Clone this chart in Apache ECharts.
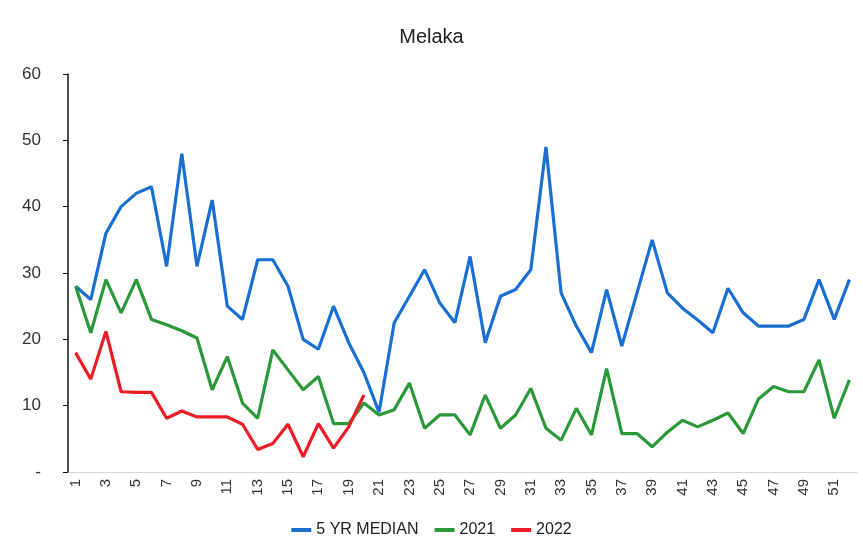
<!DOCTYPE html>
<html>
<head>
<meta charset="utf-8">
<script src="https://cdn.jsdelivr.net/npm/echarts@6/dist/echarts.min.js"></script>
<style>
  html, body { margin: 0; padding: 0; background: #fff; }
  #chart { width: 863px; height: 557px; }
</style>
</head>
<body>
<div id="chart"></div>
<script>
var weeks = [];
for (var i = 1; i <= 52; i++) weeks.push(String(i));

var median5yr = [28, 26, 36, 40, 42, 43, 31, 48, 31, 41, 25, 23, 32, 32, 28, 20, 18.5, 25, 19.5, 15,
  9, 22.5, 26.5, 30.5, 25.5, 22.5, 32.5, 19.5, 26.5, 27.5, 30.5, 49, 27, 22, 18, 27.5, 19, 27, 35, 27,
  24.7, 22.9, 21, 27.7, 24, 22, 22, 22, 23, 29, 23, 29];
var y2021 = [28, 21, 29, 24, 29, 23, 22.2, 21.3, 20.2, 12.4, 17.4, 10.4, 8.1, 18.4, 15.4, 12.4, 14.4, 7.3, 7.3, 10.4,
  8.6, 9.4, 13.4, 6.6, 8.6, 8.6, 5.6, 11.6, 6.6, 8.6, 12.6, 6.6, 4.8, 9.6, 5.6, 15.6, 5.8, 5.8, 3.8, 6,
  7.8, 6.8, 7.8, 8.9, 5.8, 11, 12.9, 12.1, 12.1, 16.9, 8.1, 13.9];
var y2022 = [18, 14, 21.2, 12.1, 12, 12, 8.1, 9.2, 8.3, 8.3, 8.3, 7.2, 3.4, 4.3, 7.2, 2.3, 7.3, 3.6, 6.8, 11.6];

var chart = echarts.init(document.getElementById('chart'));

function lineSeries(name, data, color) {
  return {
    name: name,
    type: 'line',
    data: data,
    symbol: 'none',
    smooth: false,
    lineStyle: { width: 3.2, color: color },
    itemStyle: { color: color }
  };
}

var option = {
  animation: false,
  backgroundColor: '#fff',
  textStyle: { fontFamily: 'Liberation Sans, Arial, sans-serif' },
  title: {
    text: 'Melaka',
    left: 'center',
    top: 22,
    textStyle: { fontSize: 20, fontWeight: 'normal', color: '#222' }
  },
  legend: {
    bottom: 14,
    left: 'center',
    icon: 'rect',
    itemWidth: 20,
    itemHeight: 4,
    itemGap: 16,
    textStyle: { fontSize: 16, color: '#222' },
    data: ['5 YR MEDIAN', '2021', '2022']
  },
  grid: { left: 68, right: 6, top: 74, bottom: 85 },
  xAxis: {
    type: 'category',
    data: weeks,
    boundaryGap: true,
    axisLine: { lineStyle: { color: '#d6d6d6', width: 1 } },
    axisTick: { show: false },
    axisLabel: { interval: 1, rotate: 90, fontSize: 15, color: '#333', margin: 7 }
  },
  yAxis: {
    type: 'value',
    min: 0,
    max: 60,
    interval: 10,
    splitLine: { show: false },
    axisLine: { show: true, lineStyle: { color: '#111', width: 1.5 } },
    axisTick: { show: true, length: 5, lineStyle: { color: '#111' } },
    axisLabel: {
      fontSize: 17,
      color: '#333',
      margin: 27,
      formatter: function (v) { return v === 0 ? '-' : v; }
    }
  },
  series: [
    lineSeries('5 YR MEDIAN', median5yr, '#1a6fd2'),
    lineSeries('2021', y2021, '#2b983a'),
    lineSeries('2022', y2022, '#ec1c27')
  ]
};

chart.setOption(option);
</script>
</body>
</html>
